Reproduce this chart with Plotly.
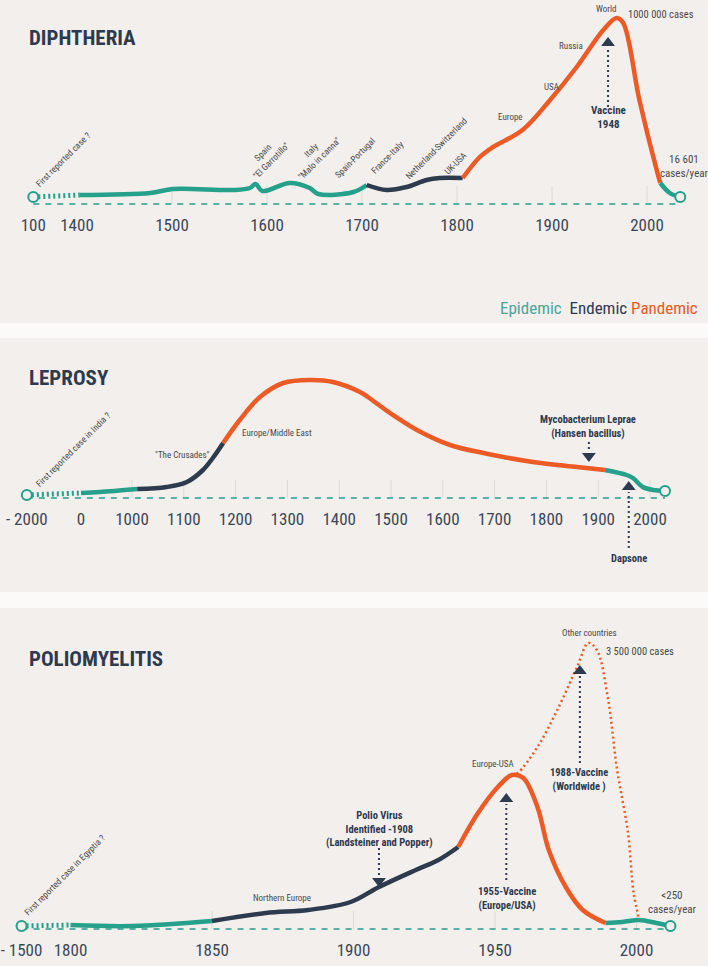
import plotly.graph_objects as go

W, H = 708, 966
BG = "#f2efed"
TEAL = "#24a08b"
NAVY = "#2e3a4e"
ORANGE = "#ec5a26"
TXT = "#4a4a4a"
FONT = "Roboto Condensed, Liberation Sans Narrow, DejaVu Sans Condensed, Arial Narrow, sans-serif"
PHASE_COLORS = {"Epidemic": TEAL, "Endemic": NAVY, "Pandemic": ORANGE}

# ---------------- DATA ----------------
# Diphtheria (relative incidence index)
dip_years = [1403, 1477, 1501, 1564, 1582, 1588, 1595, 1624, 1645, 1654, 1691, 1705,
             1726, 1747, 1768, 1782, 1806, 1824, 1838, 1869, 1898, 1926, 1954, 1968,
             1975, 1992, 2011, 2014, 2024, 2035]
dip_values = [9, 11, 15, 14, 16, 20, 13, 21, 16, 10, 12, 19,
              14, 17, 24, 26, 26, 47, 57, 74, 104, 137, 174, 186,
              181, 104, 31, 21, 11, 7]
dip_phases = [("Epidemic", 1403, 1705), ("Endemic", 1705, 1806),
              ("Pandemic", 1806, 2014), ("Epidemic", 2014, 2035)]
dip_first = (100, 7)
dip_ticks = [100, 1400, 1500, 1600, 1700, 1800, 1900, 2000]

# Leprosy
lep_years = [0, 370, 1010, 1067, 1106, 1137, 1156, 1176, 1208, 1247, 1292, 1344, 1388,
             1440, 1458, 1498, 1550, 1614, 1678, 1774, 1859, 1913, 1955, 1967, 1986,
             2006, 2029]
lep_values = [5, 6, 9, 11, 16, 28, 40, 55, 78, 101, 115, 118, 116,
              106, 100, 85, 68, 53, 45, 36, 31, 28, 23, 20, 11,
              8, 7]
lep_phases = [("Epidemic", 0, 1010), ("Endemic", 1010, 1176),
              ("Pandemic", 1176, 1913), ("Epidemic", 1913, 2029)]
lep_first = (-2000, 3)
lep_ticks = [-2000, 0, 1000, 1100, 1200, 1300, 1400, 1500, 1600, 1700, 1800, 1900, 2000]

# Poliomyelitis
pol_years = [1800, 1822, 1850, 1869, 1884, 1899, 1909, 1922, 1930, 1937, 1944, 1951,
             1956, 1960, 1965, 1969, 1975, 1981, 1989, 1995, 2001, 2007, 2012]
pol_values = [4, 3, 8, 16, 19, 27, 42, 59, 69, 82, 116, 142,
              154, 151, 122, 79, 42, 19, 6, 7, 9, 6, 3]
pol_phases = [("Epidemic", 1800, 1850), ("Endemic", 1850, 1937),
              ("Pandemic", 1937, 1989), ("Epidemic", 1989, 2012)]
pol_first = (-1500, 3)
pol_ticks = [-1500, 1800, 1850, 1900, 1950, 2000]
pol_world_years = [1956, 1958, 1965, 1972, 1979, 1983, 1986, 1990, 1993, 1997, 1999, 2001]
pol_world_values = [154, 156, 182, 219, 262, 286, 279, 229, 162, 96, 36, 9]

# events: (year, shaft start, shaft end, arrowhead centre, direction)
dip_events = [(1959, 97, 156, 161, "up")]
lep_events = [(1882, 56, 47, 42, "down"), (1959, -50, 6, 11, "up")]
pol_events = [(1909, 81, 53, 48, "down"), (1954, 49, 125, 130, "up"),
              (1980, 166, 253, 258, "up")]

# ---------------- broken-axis mappings ----------------
def make_map(breaks):
    # breaks: list of (year, axis_value) pairs, piecewise linear, identity afterwards
    def f(y):
        if y >= breaks[-1][0]:
            return breaks[-1][1] + (y - breaks[-1][0])
        for (y0, a0), (y1, a1) in zip(breaks[:-1], breaks[1:]):
            if y0 <= y <= y1:
                return a0 + (y - y0) * (a1 - a0) / (y1 - y0)
        return breaks[0][1]
    return f

panels = [
    dict(name="DIPHTHERIA", top=0, bottom=323, base=204, ref_year=1400, ref_px=77, ppy=0.95,
         years=dip_years, values=dip_values, phases=dip_phases, first=dip_first, ticks=dip_ticks,
         events=dip_events, title_y=38, map=make_map([(100, 1354), (1400, 1400)])),
    dict(name="LEPROSY", top=338, bottom=592, base=498, ref_year=1000, ref_px=132, ppy=0.518,
         years=lep_years, values=lep_values, phases=lep_phases, first=lep_first, ticks=lep_ticks,
         events=lep_events, title_y=378, map=make_map([(-2000, 797), (0, 901.5), (1000, 1000)])),
    dict(name="POLIOMYELITIS", top=608, bottom=966, base=929, ref_year=1850, ref_px=212, ppy=2.83,
         years=pol_years, values=pol_values, phases=pol_phases, first=pol_first, ticks=pol_ticks,
         events=pol_events, title_y=659, map=make_map([(-1500, 1782.7), (1800, 1800)])),
]

fig = go.Figure()
layout = dict(width=W, height=H, paper_bgcolor=BG, plot_bgcolor="rgba(0,0,0,0)",
              margin=dict(l=0, r=0, t=0, b=0), showlegend=False, font=dict(family=FONT))
shapes, annotations = [], []

def paper(px, py):
    return px / W, 1 - py / H

for i, p in enumerate(panels, start=1):
    xs = "x" if i == 1 else f"x{i}"
    ys = "y" if i == 1 else f"y{i}"
    m = p["map"]
    xr = [p["ref_year"] - p["ref_px"] / p["ppy"], p["ref_year"] + (W - p["ref_px"]) / p["ppy"]]
    yr = [-(p["bottom"] - p["base"]), p["base"] - p["top"]]
    layout[f"xaxis{'' if i == 1 else i}"] = dict(
        domain=[0, 1], range=xr, anchor="free", position=1 - (p["base"] + 9) / H,
        tickmode="array", tickvals=[m(t) for t in p["ticks"]],
        ticktext=[("- " + str(-t)) if t < 0 else str(t) for t in p["ticks"]],
        tickfont=dict(size=17, color="#3c4657", family=FONT),
        showgrid=False, zeroline=False, showline=False, ticks="", fixedrange=True)
    layout[f"yaxis{'' if i == 1 else i}"] = dict(
        domain=[1 - p["bottom"] / H, 1 - p["top"] / H], range=yr, visible=False,
        anchor=xs, fixedrange=True)

    first_x = m(p["first"][0])
    last_x = m(p["years"][-1])
    # faint tick guides
    for t in p["ticks"][2:]:
        shapes.append(dict(type="line", xref=xs, yref=ys, x0=m(t), x1=m(t), y0=0, y1=18,
                           line=dict(color="#dedad7", width=1), layer="below"))
    # dashed baseline
    fig.add_trace(go.Scatter(x=[first_x, last_x], y=[0, 0], mode="lines", xaxis=xs, yaxis=ys,
                             line=dict(color=TEAL, width=1.5, dash="6px,6px"), hoverinfo="skip"))
    # dotted beginning
    fig.add_trace(go.Scatter(x=[first_x, m(p["years"][0])], y=[p["first"][1], p["values"][0]],
                             mode="lines", xaxis=xs, yaxis=ys,
                             line=dict(color=TEAL, width=5, dash="2px,3px"), hoverinfo="skip"))
    # phase segments
    for phase, a, b in p["phases"]:
        sx = [m(y) for y in p["years"] if a <= y <= b]
        sy = [v for y, v in zip(p["years"], p["values"]) if a <= y <= b]
        fig.add_trace(go.Scatter(x=sx, y=sy, mode="lines", xaxis=xs, yaxis=ys,
                                 line=dict(color=PHASE_COLORS[phase], width=4.5, shape="spline",
                                           smoothing=1.0), hoverinfo="skip"))
    if i == 3:
        fig.add_trace(go.Scatter(x=[m(y) for y in pol_world_years], y=pol_world_values,
                                 mode="lines", xaxis=xs, yaxis=ys,
                                 line=dict(color=ORANGE, width=2.5, dash="2px,3px", shape="spline"),
                                 hoverinfo="skip"))
    # open circles at both ends
    fig.add_trace(go.Scatter(x=[first_x, last_x], y=[p["first"][1], p["values"][-1]],
                             mode="markers", xaxis=xs, yaxis=ys,
                             marker=dict(size=10, color=BG, line=dict(color=TEAL, width=2)),
                             hoverinfo="skip"))
    # event arrows
    for yr_, s0, s1, head, d in p["events"]:
        fig.add_trace(go.Scatter(x=[m(yr_), m(yr_)], y=[s0, s1], mode="lines", xaxis=xs, yaxis=ys,
                                 line=dict(color=NAVY, width=2, dash="2px,3px"), hoverinfo="skip"))
        fig.add_trace(go.Scatter(x=[m(yr_)], y=[head], mode="markers", xaxis=xs, yaxis=ys,
                                 marker=dict(symbol="triangle-up" if d == "up" else "triangle-down",
                                             size=12, color=NAVY), hoverinfo="skip"))
    # title
    tx, ty = paper(27, p["title_y"])
    annotations.append(dict(text=f"<b>{p['name']}</b>", x=tx, y=ty, xref="paper", yref="paper",
                            xanchor="left", yanchor="middle", showarrow=False,
                            font=dict(size=21, color=NAVY, family=FONT)))

# separators
for a, b in [(323, 338), (592, 608)]:
    shapes.append(dict(type="rect", xref="paper", yref="paper", x0=0, x1=1,
                       y0=1 - b / H, y1=1 - a / H, fillcolor="#fbfaf9", line=dict(width=0),
                       layer="below"))

# text labels: (text, px, py, size, bold, angle)
labels = [
    ("First reported case ?", 63, 160, 9, False, -45),
    ("Spain<br>\"El Garrotillo\"", 267, 157, 9, False, -45),
    ("Italy<br>\"Malo in canna\"", 315, 155, 9, False, -45),
    ("Spain-Portugal", 355, 158, 9, False, -45),
    ("France-Italy", 387, 158, 9, False, -45),
    ("Netherland-Switzerland", 437, 148, 9, False, -45),
    ("UK-USA", 456, 163, 9, False, -45),
    ("Europe", 510, 117, 9, False, 0),
    ("USA", 551, 87, 9, False, 0),
    ("Russia", 571, 46, 9, False, 0),
    ("World", 606, 9, 9, False, 0),
    ("1000 000 cases", 661, 15, 10.5, False, 0),
    ("16 601<br>cases/year", 684, 167, 11, False, 0),
    ("Vaccine<br>1948", 608, 118, 11, True, 0),
    ("First reported case in India ?", 73, 450, 9, False, -45),
    ("\"The Crusades\"", 182, 455, 9, False, 0),
    ("Europe/Middle East", 277, 433, 9, False, 0),
    ("Mycobacterium Leprae<br>(Hansen bacillus)", 588, 426, 10.5, True, 0),
    ("Dapsone", 629, 558, 10.5, True, 0),
    ("First reported case in Egyptia ?", 65, 875, 9, False, -45),
    ("Northern Europe", 282, 898, 9, False, 0),
    ("Polio Virus<br>Identified -1908<br>(Landsteiner and Popper)", 379, 829, 10.5, True, 0),
    ("Europe-USA", 493, 764, 9, False, 0),
    ("1955-Vaccine<br>(Europe/USA)", 507, 898, 10.5, True, 0),
    ("Other countries", 589, 633, 9, False, 0),
    ("3 500 000 cases", 640, 651, 10.5, False, 0),
    ("1988-Vaccine<br>(Worldwide )", 579, 779, 10.5, True, 0),
    ("&lt;250<br>cases/year", 672, 902, 11, False, 0),
]
for text, px, py, size, bold, ang in labels:
    x, y = paper(px, py)
    annotations.append(dict(text=f"<b>{text}</b>" if bold else text, x=x, y=y,
                            xref="paper", yref="paper", xanchor="center", yanchor="middle",
                            showarrow=False, textangle=ang,
                            font=dict(size=size, color=NAVY if bold else TXT, family=FONT)))

# phase legend
lx, ly = paper(700, 308)
annotations.append(dict(
    text=f"<span style='color:{'#4fa597'}'>Epidemic</span>  "
         f"<span style='color:{NAVY}'>Endemic</span> "
         f"<span style='color:{ORANGE}'>Pandemic</span>",
    x=lx, y=ly, xref="paper", yref="paper", xanchor="right", yanchor="middle",
    showarrow=False, font=dict(size=17, family=FONT)))

layout["shapes"] = shapes
layout["annotations"] = annotations
fig.update_layout(**layout)
fig.write_html("out.html", config={"displayModeBar": False},
               post_script="document.body.style.margin='0';document.body.style.overflow='hidden';")
